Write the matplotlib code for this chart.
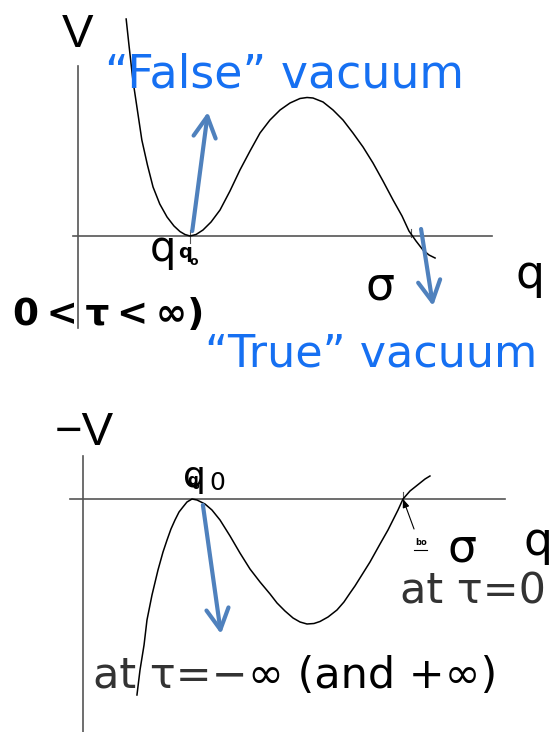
import matplotlib.pyplot as plt

plt.rcParams['font.family'] = ['DejaVu Sans']

# V(q) for the upper sketch (q0 = 1 is the false vacuum)
q_top = [0.43, 0.455, 0.49, 0.53, 0.57, 0.62, 0.67, 0.73, 0.795, 0.857, 0.91, 0.955, 1.0,
         1.054, 1.116, 1.188, 1.268, 1.357, 1.446, 1.536, 1.625, 1.714, 1.804, 1.893, 1.982,
         2.045, 2.098, 2.188, 2.277, 2.366, 2.455, 2.545, 2.634, 2.723, 2.813, 2.893, 2.955,
         3.018, 3.08, 3.134, 3.188]
v_top = [2.17, 1.91, 1.56, 1.26, 0.96, 0.71, 0.49, 0.32, 0.19, 0.10, 0.045, 0.015, 0.0,
         0.015, 0.06, 0.14, 0.26, 0.45, 0.66, 0.85, 1.03, 1.16, 1.26, 1.33, 1.375,
         1.385, 1.38, 1.34, 1.26, 1.16, 1.03, 0.89, 0.73, 0.55, 0.36, 0.20, 0.05,
         -0.05, -0.14, -0.19, -0.22]

# -V(q) for the lower sketch
q_bot = [0.495, 0.523, 0.56, 0.587, 0.633, 0.688, 0.734, 0.771, 0.807, 0.844, 0.881, 0.917,
         0.954, 1.0, 1.046, 1.119, 1.183, 1.257, 1.349, 1.44, 1.532, 1.624, 1.716, 1.78,
         1.853, 1.927, 1.991, 2.055, 2.119, 2.174, 2.248, 2.33, 2.394, 2.45, 2.495, 2.541,
         2.633, 2.725, 2.798, 2.844, 2.89, 2.936, 3.0, 3.046, 3.092, 3.138, 3.183]
mv_bot = [-1.96, -1.71, -1.46, -1.21, -0.96, -0.71, -0.53, -0.41, -0.30, -0.21, -0.13, -0.08,
          -0.03, 0.0, -0.01, -0.05, -0.11, -0.21, -0.37, -0.54, -0.70, -0.83, -0.95, -1.04,
          -1.12, -1.19, -1.23, -1.25, -1.245, -1.225, -1.18, -1.11, -1.03, -0.94, -0.87, -0.79,
          -0.63, -0.45, -0.31, -0.21, -0.11, 0.0, 0.08, 0.12, 0.16, 0.20, 0.23]

q0 = 1.0
sigma_top = 2.97
sigma_bot = 2.936

W, H = 552, 732
fig = plt.figure(figsize=(W / 100, H / 100), dpi=100)


def panel(ox, oy, sx, sy):
    # axes over the whole figure, origin at pixel (ox, oy)
    ax = fig.add_axes([0, 0, 1, 1])
    ax.set_xlim(-ox / sx, (W - ox) / sx)
    ax.set_ylim((oy - H) / sy, oy / sy)
    ax.axis('off')
    ax.patch.set_alpha(0)
    return ax


def label(x, y, s, **kw):
    return fig.text(x / W, 1 - y / H, s, ha='left', va='baseline', **kw)


axis_col = '#555555'
blue_txt = '#1670f2'
blue = '#4f81bd'
arial = ['Liberation Sans', 'DejaVu Sans']
arrow = dict(arrowstyle='->,head_length=0.75,head_width=0.4', color=blue, lw=3,
             mutation_scale=20, shrinkA=0, shrinkB=0)

# upper panel: V
top = panel(78, 236, 112, 100)
top.plot([-0.045, 3.70], [0, 0], color=axis_col, lw=1.2)
top.plot([0, 0], [1.70, -0.92], color=axis_col, lw=1.2)
top.plot([q0, q0], [0.06, -0.07], color=axis_col, lw=0.8)
top.plot([sigma_top, sigma_top], [0.07, -0.01], color=axis_col, lw=0.8)
top.plot(q_top, v_top, color='black', lw=1.1)
top.annotate('', xy=(1.16, 1.24), xytext=(1.02, 0.05), arrowprops=arrow)
top.annotate('', xy=(3.17, -0.70), xytext=(3.063, 0.07), arrowprops=arrow)

# lower panel: -V
bot = panel(83, 499, 109, 100)
bot.plot([-0.12, 3.87], [0, 0], color=axis_col, lw=1.2)
bot.plot([0, 0], [0.43, -2.4], color=axis_col, lw=1.2)
bot.plot([sigma_bot, sigma_bot], [0.07, -0.07], color=axis_col, lw=0.8)
bot.plot(q_bot, mv_bot, color='black', lw=1.1)
bot.annotate('', xy=(1.266, -1.35), xytext=(1.10, -0.06), arrowprops=arrow)
bot.annotate('', xy=(sigma_bot, 0.0), xytext=(3.037, -0.30),
             arrowprops=dict(arrowstyle='-|>,head_length=0.5,head_width=0.2', color='black',
                             lw=0.8, mutation_scale=10, shrinkA=0, shrinkB=0))

# labels of the upper sketch
label(62, 47, 'V', fontsize=34, family=arial)
label(105, 87, '\u201cFalse\u201d vacuum', fontsize=33, color=blue_txt)
label(150, 261, 'q', fontsize=30)
label(178, 258, 'q', fontsize=14, fontweight='bold')
label(190, 265, 'o', fontsize=9, fontweight='bold')
label(13, 325, '0\u2009<\u2009\u03c4\u2009<\u2009\u221e)', fontsize=27, fontweight='bold')
label(365, 300, '\u03c3', fontsize=33)
label(515, 288, 'q', fontsize=33)
label(205, 367, '\u201cTrue\u201d vacuum', fontsize=32, color=blue_txt)

# labels of the lower sketch
label(55, 445, '\u2212V', fontsize=34, family=arial)
label(183, 487, 'q', fontsize=26)
label(209, 490, '0', fontsize=18)
label(187, 485, 'q', fontsize=11, fontweight='bold')
label(193, 489, 'o', fontsize=7, fontweight='bold')
label(448, 562, '\u03c3', fontsize=33)
label(523, 555, 'q', fontsize=33)
label(400, 603, 'at \u03c4=0', fontsize=31, color='#333333')
label(415, 545, 'bo', fontsize=6, fontweight='bold')
fig.add_artist(plt.Line2D([414 / W, 427 / W], [1 - 550 / H, 1 - 550 / H],
                          color='black', lw=0.8, transform=fig.transFigure))
t1 = label(93, 688, 'at \u03c4=\u2212', fontsize=31, color='#333333')
bot.annotate('\u221e (and +\u221e)', xy=(1, 0), xycoords=t1,
             va='bottom', ha='left', fontsize=31, color='black')

fig.savefig('out.png', dpi=100)
